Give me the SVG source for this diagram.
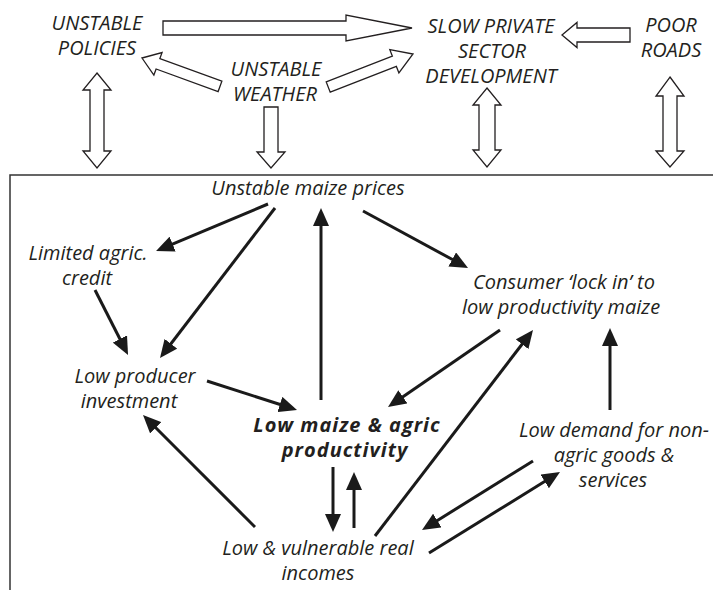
<svg xmlns="http://www.w3.org/2000/svg" width="713" height="590" viewBox="0 0 713 590">
<style>
text{font-family:"Open Sans","Noto Sans","Liberation Sans",sans-serif;font-style:italic;font-size:20px;fill:#231f20;text-anchor:middle}
.cap{font-size:20px}
.b{font-weight:bold;font-size:20px;letter-spacing:1px}
.ho{fill:#fff;stroke:#231f20;stroke-width:1.3;stroke-linejoin:miter}
.ln{stroke:#1a1a1a;stroke-width:3;fill:none;marker-end:url(#ah)}
.frame{stroke:#333;stroke-width:1.5;fill:none}
</style>
<defs>
<marker id="ah" markerUnits="userSpaceOnUse" markerWidth="18" markerHeight="16" refX="6" refY="8" orient="auto" viewBox="0 0 18 16">
<path d="M0,0 L18,8 L0,16 z" fill="#1a1a1a"/>
</marker>
</defs>
<path class="frame" d="M10,590 V175 H713"/>
<g id="n-policies"><text class="cap" x="97" y="30">UNSTABLE</text><text class="cap" x="97" y="55">POLICIES</text></g>
<g id="n-weather"><text class="cap" x="276" y="76">UNSTABLE</text><text class="cap" x="275" y="101">WEATHER</text></g>
<g id="n-slow"><text class="cap" x="491" y="33">SLOW PRIVATE</text><text class="cap" x="492" y="58">SECTOR</text><text class="cap" x="491" y="83">DEVELOPMENT</text></g>
<g id="n-roads"><text class="cap" x="671" y="32">POOR</text><text class="cap" x="671" y="57">ROADS</text></g>
<g id="n-prices"><text x="308" y="195">Unstable maize prices</text></g>
<g id="n-credit"><text x="88" y="260">Limited agric.</text><text x="87" y="285">credit</text></g>
<g id="n-lockin"><text x="564" y="289">Consumer ‘lock in’ to</text><text x="561" y="314">low productivity maize</text></g>
<g id="n-invest"><text x="135" y="383">Low producer</text><text x="129" y="408">investment</text></g>
<g id="n-prod"><text class="b" x="347" y="432">Low maize &amp; agric</text><text class="b" x="345" y="457">productivity</text></g>
<g id="n-demand"><text x="614" y="437">Low demand for non-</text><text x="614" y="462">agric goods &amp;</text><text x="613" y="487">services</text></g>
<g id="n-incomes"><text x="318" y="555">Low &amp; vulnerable real</text><text x="318" y="580">incomes</text></g>
<g id="connectors">
<polygon class="ho" transform="translate(412,28)" points="-249,-7 -66,-7 -66,-13 0,0 -66,13 -66,7 -249,7"/>
<polygon class="ho" transform="translate(142,58) rotate(-160)" points="-83,-5.5 -17,-5.5 -17,-12 0,0 -17,12 -17,5.5 -83,5.5"/>
<polygon class="ho" transform="translate(413,54) rotate(-21.3)" points="-91,-5.5 -20,-5.5 -20,-12.5 0,0 -20,12.5 -20,5.5 -91,5.5"/>
<polygon class="ho" transform="translate(562,35) rotate(180)" points="-68,-7 -15,-7 -15,-12.5 0,0 -15,12.5 -15,7 -68,7"/>
<polygon class="ho" points="97,73 111,90 104,90 104,151 111,151 97,168 83,151 90,151 90,90 83,90"/>
<polygon class="ho" points="264,107 278,107 278,152 285,152 271,168 257,152 264,152"/>
<polygon class="ho" points="487,88 501,105 495,105 495,150 501,150 487,167 473,150 479,150 479,105 473,105"/>
<polygon class="ho" points="670,77 684,96 677,96 677,151 684,151 670,167 656,151 663,151 663,96 656,96"/>
<line class="ln" x1="268" y1="204" x2="167.1" y2="246.4"/>
<line class="ln" x1="275" y1="208" x2="167.3" y2="348.5"/>
<line class="ln" x1="95" y1="290" x2="122.6" y2="344.3"/>
<line class="ln" x1="321" y1="400" x2="321" y2="220"/>
<line class="ln" x1="363" y1="211" x2="457.5" y2="262.3"/>
<line class="ln" x1="500" y1="330" x2="397.9" y2="400.2"/>
<line class="ln" x1="375" y1="536" x2="525.7" y2="339.5"/>
<line class="ln" x1="610" y1="410" x2="610" y2="340"/>
<line class="ln" x1="207" y1="381" x2="285.6" y2="406.3"/>
<line class="ln" x1="255" y1="527" x2="151.5" y2="423.5"/>
<line class="ln" x1="333" y1="467" x2="333" y2="520"/>
<line class="ln" x1="354" y1="528" x2="354" y2="484"/>
<line class="ln" x1="533" y1="461" x2="432.2" y2="523.7"/>
<line class="ln" x1="429" y1="553" x2="549.8" y2="478.3"/>
</g>
</svg>
